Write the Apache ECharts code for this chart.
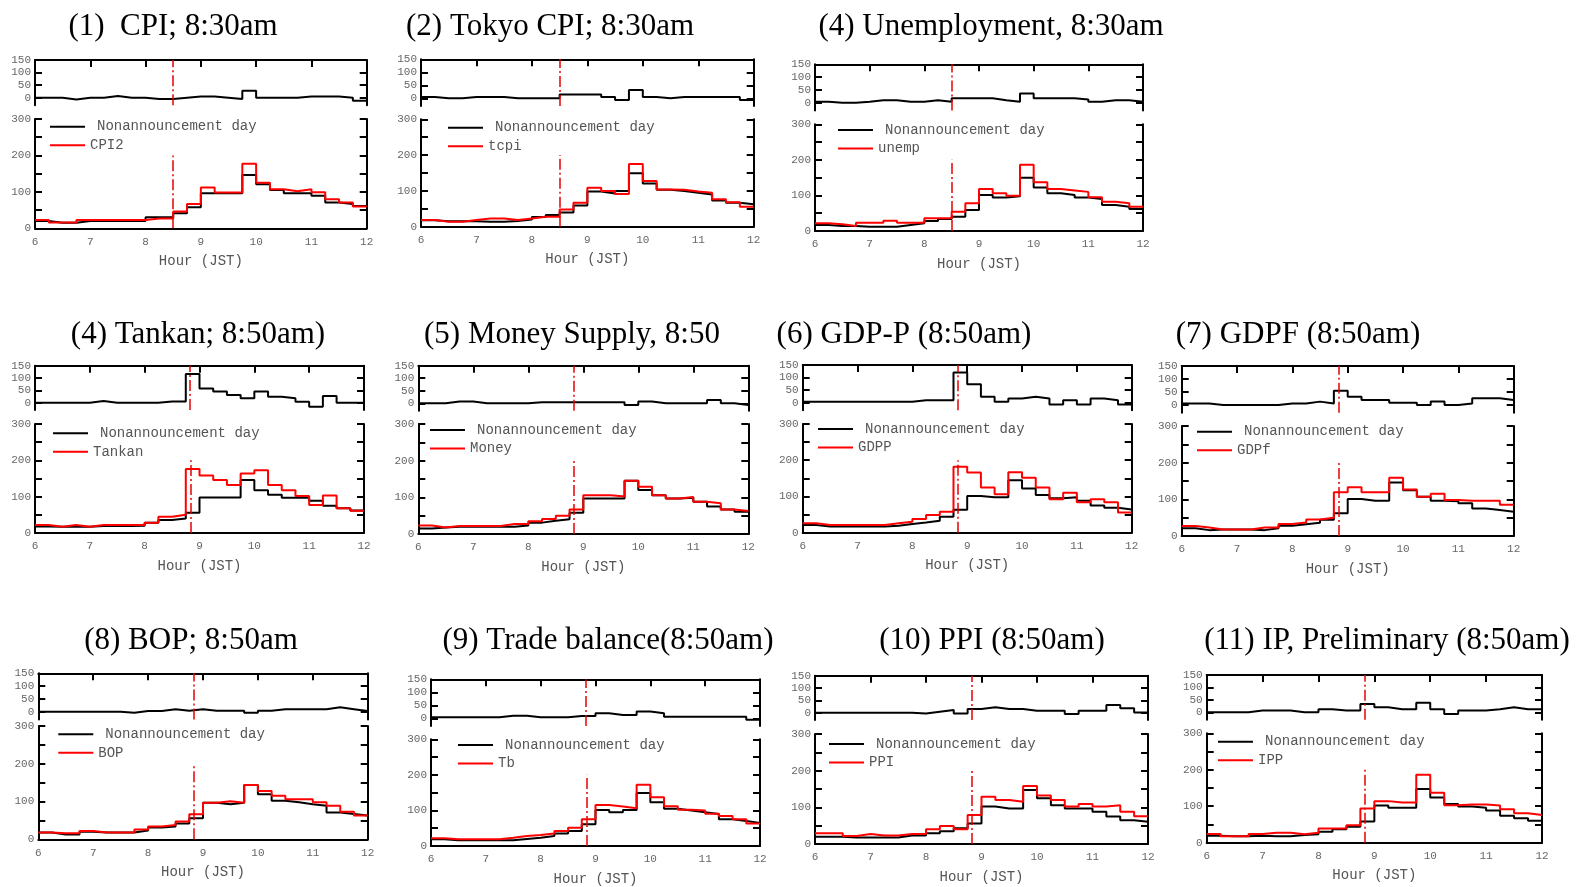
<!DOCTYPE html>
<html>
<head>
<meta charset="utf-8">
<script src="https://cdn.jsdelivr.net/npm/echarts@6.0.0/dist/echarts.min.js"></script>
<style>
html,body{margin:0;padding:0;background:#fff;}
#c{width:1585px;height:887px;}
</style>
</head>
<body>
<div id="c"></div>
<script>
// ---------- DATA ----------
const binStart = [6.00,6.25,6.50,6.75,7.00,7.25,7.50,7.75,8.00,8.25,8.50,8.75,9.00,9.25,9.50,9.75,10.00,10.25,10.50,10.75,11.00,11.25,11.50,11.75];
const sessionEnd = 12;
const hourTicks = [6,7,8,9,10,11,12];
const diffTicks = [0,50,100,150];
const baseName = 'Nonannouncement day';

const titles = ['(1)  CPI; 8:30am','(2) Tokyo CPI; 8:30am','(4) Unemployment, 8:30am','(4) Tankan; 8:50am)','(5) Money Supply, 8:50','(6) GDP-P (8:50am)','(7) GDPF (8:50am)','(8) BOP; 8:50am','(9) Trade balance(8:50am)','(10) PPI (8:50am)','(11) IP, Preliminary (8:50am)'];
const eventNames = ['CPI2','tcpi','unemp','Tankan','Money','GDPP','GDPf','BOP','Tb','PPI','IPP'];
const releaseHour = [8.5,8.5,8.5,8.8333,8.8333,8.8333,8.8333,8.8333,8.8333,8.8333,8.8333];

const cpiNon   = [20,15,15,20,20,20,20,20,30,30,41,58,96,96,96,146,121,105,96,96,89,71,67,61];
const cpiEvent = [23,16,16,23,23,23,23,23,27,27,46,67,112,98,98,177,125,107,102,107,99,80,71,60];
const cpiDiff  = [0,0,-7,0,0,7,0,0,-5,-5,0,5,5,0,-5,28,0,0,0,5,5,5,0,-12];

const tcpiNon   = [18,15,15,15,14,14,16,20,27,33,40,59,98,93,100,149,121,103,100,95,90,73,67,63];
const tcpiEvent = [19,14,14,19,23,23,19,23,28,28,48,67,109,100,91,175,128,104,103,98,95,77,68,56];
const tcpiDiff  = [5,0,0,5,5,5,0,0,0,0,15,15,15,5,-7,32,5,0,5,5,5,5,5,-7];

const unempNon   = [17,14,14,12,12,12,17,22,28,34,40,59,101,94,98,150,122,106,101,94,90,73,68,62];
const unempEvent = [22,19,14,23,23,29,23,23,36,36,54,78,118,106,99,186,137,118,114,110,95,82,78,68];
const unempDiff  = [4,0,0,4,10,10,4,4,10,4,17,17,17,10,4,36,17,17,17,13,4,10,10,4];

const tankanNon   = [18,17,17,17,19,19,19,20,28,36,40,56,98,98,98,146,118,105,97,97,89,75,68,62];
const tankanEvent = [22,17,22,17,22,22,22,22,28,45,50,176,158,146,132,164,173,132,118,102,77,103,68,61];
const tankanDiff  = [0,0,0,0,7,0,0,0,0,5,5,116,58,45,31,18,45,24,18,4,-16,27,0,0];

const moneyNon   = [15,18,20,20,20,20,20,23,31,36,40,58,97,97,97,145,120,106,97,99,88,75,67,61];
const moneyEvent = [23,18,22,22,22,22,27,27,35,41,50,67,106,106,102,145,129,106,97,101,88,84,67,63];
const moneyDiff  = [0,0,7,7,0,0,0,0,4,4,4,4,4,4,4,-7,7,0,0,0,0,13,0,-7];

const gdppNon   = [21,17,17,17,17,17,19,24,28,33,44,63,101,98,98,145,122,104,95,98,88,75,69,64];
const gdppEvent = [26,21,21,21,21,21,26,30,38,49,58,182,166,125,106,167,152,125,92,110,84,92,84,56];
const gdppDiff  = [4,4,4,4,4,4,4,4,10,10,10,120,73,24,4,17,24,17,-7,10,-7,17,10,-7];

const gdpfNon   = [21,16,18,18,18,16,21,28,32,36,44,62,101,96,96,146,125,107,96,95,89,75,71,66];
const gdpfEvent = [27,23,18,18,18,23,23,33,37,45,50,119,133,119,119,159,127,107,115,98,96,96,96,85];
const gdpfDiff  = [6,6,0,0,0,0,0,6,6,13,6,55,32,19,19,9,9,0,13,0,6,26,26,19];

const bopNon   = [18,13,13,20,18,18,18,23,31,34,42,56,97,93,97,144,119,102,98,93,89,71,67,63];
const bopEvent = [18,16,16,22,18,18,18,26,34,38,47,66,97,101,97,144,128,115,106,106,98,89,73,63];
const bopDiff  = [0,0,0,0,0,0,-4,3,3,10,4,10,4,4,4,-4,4,10,10,10,10,17,10,3];

const tbNon   = [19,16,16,16,16,16,20,23,28,35,42,61,101,95,101,149,123,105,100,95,90,75,70,65];
const tbEvent = [22,19,19,19,19,23,28,31,35,42,51,75,115,111,106,172,137,112,102,100,91,84,75,63];
const tbDiff  = [4,4,4,4,4,10,10,4,4,4,9,9,19,13,13,26,19,6,6,6,6,6,6,-6];

const ppiNon   = [20,20,18,18,18,18,23,23,29,35,43,56,102,97,97,147,125,106,97,97,88,75,65,61];
const ppiEvent = [29,29,22,27,23,23,27,27,40,49,40,79,129,120,115,158,132,120,102,109,102,106,88,76];
const ppiDiff  = [0,0,0,0,0,0,0,-3,4,11,-3,15,22,15,15,8,8,8,-5,8,8,31,18,1];

const ippNon   = [19,18,18,19,18,18,21,23,30,37,44,58,102,96,96,147,124,106,99,96,88,74,67,60];
const ippEvent = [24,18,18,24,27,27,23,27,39,39,48,94,114,110,110,186,137,103,105,105,102,92,81,76];
const ippDiff  = [0,0,0,7,7,7,0,0,12,7,7,33,20,12,12,39,12,-7,7,7,12,20,12,12];

const nonSeries   = [cpiNon,tcpiNon,unempNon,tankanNon,moneyNon,gdppNon,gdpfNon,bopNon,tbNon,ppiNon,ippNon];
const eventSeries = [cpiEvent,tcpiEvent,unempEvent,tankanEvent,moneyEvent,gdppEvent,gdpfEvent,bopEvent,tbEvent,ppiEvent,ippEvent];
const diffSeries  = [cpiDiff,tcpiDiff,unempDiff,tankanDiff,moneyDiff,gdppDiff,gdpfDiff,bopDiff,tbDiff,ppiDiff,ippDiff];

// ---------- LAYOUT (pixels) ----------
const layout = [
  {L:35,    W:331.7, tT:60,    tH:45.2, bT:119,   bH:109.3, lx:50,   ly:126.7, tx:173,  ty:27},
  {L:421,   W:332.7, tT:59.3,  tH:46.8, bT:119.3, bH:107.4, lx:448,  ly:127.7, tx:550,  ty:27},
  {L:815,   W:328,   tT:64.3,  tH:46.1, bT:124.3, bH:106.7, lx:838,  ly:130,   tx:991,  ty:27},
  {L:35,    W:329,   tT:365.7, tH:44.4, bT:424,   bH:109,   lx:53,   ly:433.3, tx:198,  ty:335},
  {L:418.3, W:330,   tT:365.7, tH:45.1, bT:424,   bH:110,   lx:430,  ly:430,   tx:572,  ty:335},
  {L:802.7, W:329,   tT:365,   tH:45.2, bT:424,   bH:108.7, lx:818,  ly:429,   tx:904,  ty:335},
  {L:1181.7,W:332,   tT:366,   tH:46.8, bT:426,   bH:110,   lx:1197, ly:431.7, tx:1298, ty:335},
  {L:38.3,  W:329.4, tT:673.3, tH:46.1, bT:726,   bH:113.3, lx:58.3, ly:734.3, tx:191,  ty:641},
  {L:431,   W:329,   tT:679.3, tH:46.8, bT:739.3, bH:107.4, lx:458,  ly:745,   tx:608,  ty:641},
  {L:815,   W:333,   tT:675.7, tH:44.4, bT:734,   bH:110,   lx:829,  ly:744,   tx:992,  ty:641},
  {L:1206.7,W:335.3, tT:675,   tH:44.8, bT:733.3, bH:109.4, lx:1218, ly:741.7, tx:1387, ty:641}
];

// ---------- BUILD ----------
function steps(vals){
  const pts = binStart.map((x,i)=>[x, vals[i]]);
  pts.push([sessionEnd, vals[vals.length-1]]);
  return pts;
}
const AX = {color:'#000', width:2};
const labelFont = {fontFamily:'Liberation Mono', fontSize:11, color:'#666'};
const markStyle = {color:'#e60000', width:1.5, type:[11,3,2,3]};
const lineIcon = 'path://M0,0H35V2H0Z';

const option = {animation:false, backgroundColor:'#fff', title:[], grid:[], xAxis:[], yAxis:[], series:[], legend:[]};

titles.forEach((t,i)=>{
  const g = layout[i];
  option.title.push({text:t, left:g.tx, top:g.ty, textAlign:'center', textVerticalAlign:'middle', padding:0,
    textStyle:{fontFamily:'Liberation Serif', fontSize:31, fontWeight:'normal', color:'#000'}});

  option.grid.push({left:g.L, top:g.tT, width:g.W, height:g.tH});
  option.grid.push({left:g.L, top:g.bT, width:g.W, height:g.bH});

  option.xAxis.push({gridIndex:2*i, type:'value', position:'top', min:hourTicks[0], max:hourTicks[hourTicks.length-1], interval:1,
    axisLine:{onZero:false, lineStyle:AX}, axisTick:{inside:true, length:7, lineStyle:AX},
    axisLabel:{show:false}, splitLine:{show:false}});
  option.xAxis.push({gridIndex:2*i+1, type:'value', position:'bottom', min:hourTicks[0], max:hourTicks[hourTicks.length-1], interval:1,
    axisLine:{onZero:false, lineStyle:AX}, axisTick:{show:false},
    axisLabel:Object.assign({margin:8}, labelFont), splitLine:{show:false},
    name:'Hour (JST)', nameLocation:'middle', nameGap:26,
    nameTextStyle:{fontFamily:'Liberation Mono', fontSize:14, color:'#555'}});

  ['left','right'].forEach(pos=>{
    option.yAxis.push({gridIndex:2*i, type:'value', position:pos, min:-30, max:150,
      axisLine:{show:true, onZero:false, lineStyle:AX},
      axisTick:{show:true, inside:true, length:7, customValues:diffTicks, lineStyle:AX},
      axisLabel:Object.assign({show:pos==='left', margin:4, customValues:diffTicks}, labelFont),
      splitLine:{show:false}});
  });
  ['left','right'].forEach(pos=>{
    option.yAxis.push({gridIndex:2*i+1, type:'value', position:pos, min:0, max:300, interval:50,
      axisLine:{show:true, onZero:false, lineStyle:AX},
      axisTick:{show:true, inside:true, length:7, lineStyle:AX},
      axisLabel:Object.assign({show:pos==='left', margin:4, formatter:v=> (v % 100 === 0 ? String(v) : '')}, labelFont),
      splitLine:{show:false}});
  });

  option.series.push({type:'line', name:'Difference '+(i+1), xAxisIndex:2*i, yAxisIndex:4*i,
    data:steps(diffSeries[i]), step:'end', symbol:'none', clip:true, color:'#000',
    lineStyle:{color:'#000', width:2},
    markLine:{silent:true, symbol:['none','none'], label:{show:false}, lineStyle:markStyle,
      data:[{xAxis:releaseHour[i]}]}});
  option.series.push({type:'line', name:baseName, xAxisIndex:2*i+1, yAxisIndex:4*i+2,
    data:steps(nonSeries[i]), step:'end', symbol:'none', clip:true, color:'#000',
    lineStyle:{color:'#000', width:2}});
  option.series.push({type:'line', name:eventNames[i], xAxisIndex:2*i+1, yAxisIndex:4*i+2,
    data:steps(eventSeries[i]), step:'end', symbol:'none', clip:true, color:'#ff0000',
    lineStyle:{color:'#ff0000', width:2},
    markLine:{silent:true, symbol:['none','none'], label:{show:false}, lineStyle:markStyle,
      data:[[{coord:[releaseHour[i],0]},{coord:[releaseHour[i],200]}]]}});

  option.legend.push({orient:'vertical', left:g.lx, top:g.ly-7, padding:0, itemWidth:35, itemHeight:14, itemGap:4.5,
    selectedMode:false, icon:lineIcon,
    data:[{name:baseName, icon:lineIcon, itemStyle:{color:'#000'}}, {name:eventNames[i], icon:lineIcon, itemStyle:{color:'#ff0000'}}],
    formatter:n=> n===baseName ? '{gap|'+n+'}' : n,
    textStyle:{fontFamily:'Liberation Mono', fontSize:14, color:'#555', lineHeight:14,
      rich:{gap:{padding:[0,0,0,7], fontFamily:'Liberation Mono', fontSize:14, color:'#555'}}}});
});

const chart = echarts.init(document.getElementById('c'), null, {renderer:'canvas'});
chart.setOption(option);
</script>
</body>
</html>
